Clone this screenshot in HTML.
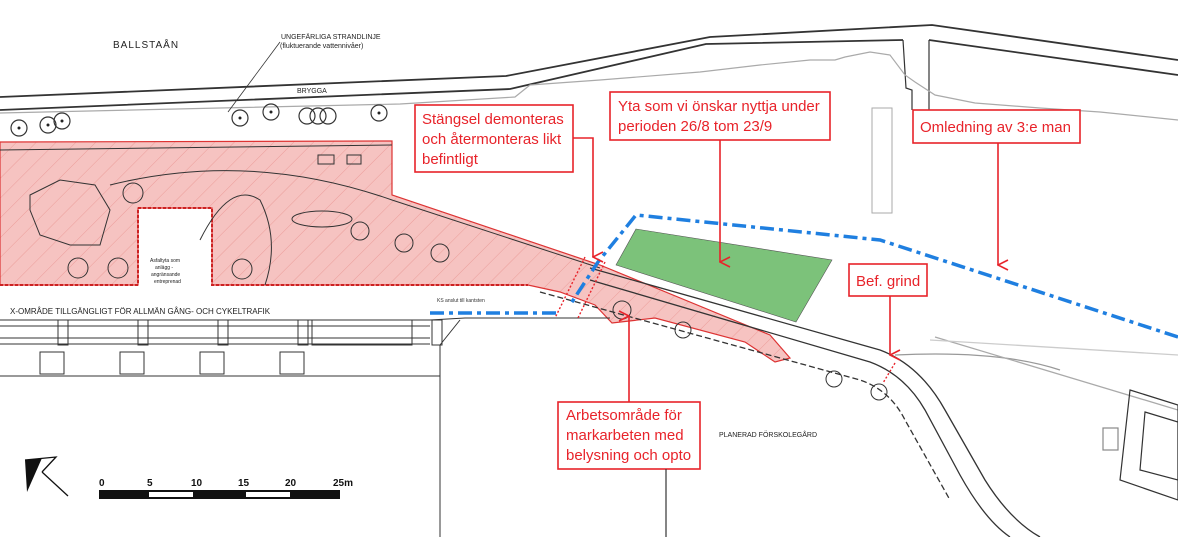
<!DOCTYPE html>
<html><head><meta charset="utf-8"><style>
html,body{margin:0;padding:0;background:#fff;}
svg{display:block;}
.lbl{font-family:"Liberation Sans",sans-serif;fill:#e8232a;font-size:15px;}
.sm{font-family:"Liberation Sans",sans-serif;fill:#222;font-size:7px;}
</style></head><body>
<svg width="1178" height="537" viewBox="0 0 1178 537" xmlns="http://www.w3.org/2000/svg">
<defs>
<pattern id="hatch" width="14" height="14" patternUnits="userSpaceOnUse" patternTransform="rotate(45)">
<rect width="14" height="14" fill="#f6c3c1"/><line x1="0" y1="0" x2="0" y2="14" stroke="#eb9d9a" stroke-width="1"/>
</pattern>
<marker id="ar" viewBox="0 0 12 12" refX="6" refY="11" markerWidth="12" markerHeight="12" orient="auto-start-reverse" markerUnits="userSpaceOnUse">
<path d="M1,1 L6,11 L11,1" fill="none" stroke="#e8232a" stroke-width="1.6"/>
</marker>
</defs>

<polyline points="0,97 506,76 710,37 932,25 1178,60" fill="none" stroke="#333" stroke-width="1.8"/>
<polyline points="0,110 510,89 706,44 903,40" fill="none" stroke="#333" stroke-width="1.8"/>
<polyline points="929,40 1178,75" fill="none" stroke="#333" stroke-width="1.8"/>
<polyline points="903,40 906,88 912,90 912,110" fill="none" stroke="#333" stroke-width="1.2"/>
<line x1="929" y1="40" x2="929" y2="110" stroke="#333" stroke-width="1.2"/>
<polyline points="0,113 220,108 400,104 515,97 530,85 600,80 700,72 760,65 810,60 835,60 845,57 870,52 890,55 905,75 915,82 935,95 975,103 1040,108 1100,112 1178,120" fill="none" stroke="#aaa" stroke-width="1.2"/>
<rect x="872" y="108" width="20" height="105" fill="none" stroke="#aaa" stroke-width="1"/>
<text x="113" y="48" class="sm" style="font-size:10px;letter-spacing:1px">BALLSTAÅN</text>
<text x="281" y="39" class="sm">UNGEFÄRLIGA STRANDLINJE</text>
<text x="280" y="48" class="sm">(fluktuerande vattennivåer)</text>
<line x1="280" y1="42" x2="228" y2="112" stroke="#333" stroke-width="0.8"/>
<text x="297" y="93" class="sm">BRYGGA</text>

<g fill="none" stroke="#333" stroke-width="1.2">
<circle cx="19" cy="128" r="8"/><circle cx="48" cy="125" r="8"/><circle cx="62" cy="121" r="8"/>
<circle cx="240" cy="118" r="8"/><circle cx="271" cy="112" r="8"/><circle cx="307" cy="116" r="8"/><circle cx="318" cy="116" r="8"/><circle cx="328" cy="116" r="8"/><circle cx="379" cy="113" r="8"/>
</g>
<g fill="#222"><circle cx="19" cy="128" r="1.5"/><circle cx="48" cy="125" r="1.5"/><circle cx="62" cy="121" r="1.5"/><circle cx="240" cy="118" r="1.5"/><circle cx="271" cy="112" r="1.5"/><circle cx="379" cy="113" r="1.5"/></g>

<path d="M0,142 L392,141 L392,195 L600,265 L770,335 L790,358 L775,362 L745,342 L655,318 L612,323 L595,305 L560,292 L528,285 L212,285 L212,208 L138,208 L138,285 L0,285 Z" fill="url(#hatch)" stroke="#d33" stroke-width="1.2"/>
<path d="M0,285 L138,285 L138,208 L212,208 L212,285 L528,285" fill="none" stroke="#c22" stroke-width="2" stroke-dasharray="3,2"/>
<g fill="none" stroke="#333" stroke-width="1">
<path d="M0,150 L392,145"/>
<path d="M110,185 Q250,150 392,200 L600,268"/>
<path d="M30,195 L60,180 L95,185 L110,210 L100,245 L70,245 L40,235 L30,210 Z"/>
<path d="M200,240 Q230,180 260,200 Q280,240 265,285"/>
<ellipse cx="322" cy="219" rx="30" ry="8"/>
<circle cx="133" cy="193" r="10"/><circle cx="78" cy="268" r="10"/><circle cx="118" cy="268" r="10"/><circle cx="242" cy="269" r="10"/><circle cx="360" cy="231" r="9"/><circle cx="404" cy="243" r="9"/><circle cx="440" cy="253" r="9"/><circle cx="622" cy="310" r="9"/><circle cx="683" cy="330" r="8"/><circle cx="834" cy="379" r="8"/><circle cx="879" cy="392" r="8"/>
<rect x="318" y="155" width="16" height="9"/><rect x="347" y="155" width="14" height="9"/>
</g>
<text x="150" y="262" class="sm" style="font-size:5px">Asfaltyta som</text>
<text x="155" y="269" class="sm" style="font-size:5px">anlägg -</text>
<text x="151" y="276" class="sm" style="font-size:5px">angränsande</text>
<text x="154" y="283" class="sm" style="font-size:5px">entreprenad</text>

<polygon points="636,229 832,260 796,322 616,265" fill="#7cc27a" stroke="#555" stroke-width="0.6"/>

<g fill="none" stroke="#333" stroke-width="1.3">
<path d="M590,268 L880,350 Q920,365 945,410 L985,480 Q1010,520 1040,537"/>
<path d="M590,280 L870,362 Q905,375 925,410 L960,475 Q985,520 1010,537"/>
<path d="M540,292 L860,380 Q890,390 905,420 L950,500" stroke-dasharray="6,3"/>
<path d="M895,355 Q1000,350 1060,370" stroke="#999"/>
<path d="M935,337 L1178,410" stroke="#aaa"/>
<path d="M930,340 L1178,355" stroke="#ccc"/>
</g>

<text x="10" y="314" class="sm" style="font-size:8px">X-OMRÅDE TILLGÄNGLIGT FÖR ALLMÄN GÅNG- OCH CYKELTRAFIK</text>
<g fill="none" stroke="#333" stroke-width="1">
<line x1="0" y1="320" x2="430" y2="320"/><line x1="0" y1="326" x2="430" y2="326"/><line x1="0" y1="338" x2="430" y2="338"/><line x1="0" y1="344" x2="430" y2="344"/>
<polyline points="430,320 465,318 610,318"/>
<line x1="460" y1="320" x2="440" y2="345"/><line x1="440" y1="345" x2="440" y2="537"/>
<rect x="58" y="320" width="10" height="25"/><rect x="138" y="320" width="10" height="25"/><rect x="218" y="320" width="10" height="25"/><rect x="298" y="320" width="10" height="25"/><rect x="432" y="320" width="10" height="25"/>
<rect x="312" y="320" width="100" height="25"/>
<rect x="40" y="352" width="24" height="22"/><rect x="120" y="352" width="24" height="22"/><rect x="200" y="352" width="24" height="22"/><rect x="280" y="352" width="24" height="22"/>
<line x1="0" y1="376" x2="440" y2="376"/>
</g>

<g fill="none" stroke="#1f7fe0" stroke-width="3.5" stroke-dasharray="14,5,4,5">
<polyline points="1178,337 880,240 636,215 598,262 570,305"/>
<line x1="430" y1="313" x2="556" y2="313"/>
</g>
<text x="437" y="302" class="sm" style="font-size:5px;fill:#333">KS anslut till kantsten</text>

<g stroke="#e8232a" stroke-width="1.4" stroke-dasharray="2,2">
<line x1="585" y1="257" x2="555" y2="318"/><line x1="605" y1="262" x2="578" y2="318"/><line x1="895" y1="363" x2="883" y2="383"/>
</g>

<g fill="none" stroke="#333" stroke-width="1.2">
<polygon points="1130,390 1178,405 1178,500 1120,480"/>
<polygon points="1145,412 1178,422 1178,480 1140,470"/>
<rect x="1103" y="428" width="15" height="22" stroke="#888"/>
</g>
<text x="719" y="437" class="sm" style="font-size:7px">PLANERAD FÖRSKOLEGÅRD</text>

<g fill="#fff" stroke="#e8232a" stroke-width="1.6">
<rect x="415" y="105" width="158" height="67"/>
<rect x="610" y="92" width="220" height="48"/>
<rect x="913" y="110" width="167" height="33"/>
<rect x="849" y="264" width="78" height="32"/>
<rect x="558" y="402" width="142" height="67"/>
</g>
<g fill="none" stroke="#e8232a" stroke-width="1.6">
<polyline points="573,138 593,138 593,257" marker-end="url(#ar)"/>
<line x1="720" y1="140" x2="720" y2="262" marker-end="url(#ar)"/>
<line x1="998" y1="143" x2="998" y2="265" marker-end="url(#ar)"/>
<line x1="890" y1="296" x2="890" y2="355" marker-end="url(#ar)"/>
<line x1="629" y1="402" x2="629" y2="316" marker-end="url(#ar)"/>
</g>
<line x1="666" y1="469" x2="666" y2="537" stroke="#333" stroke-width="1.2"/>
<text class="lbl" x="422" y="124">Stängsel demonteras</text>
<text class="lbl" x="422" y="144">och återmonteras likt</text>
<text class="lbl" x="422" y="164">befintligt</text>
<text class="lbl" x="618" y="111">Yta som vi önskar nyttja under</text>
<text class="lbl" x="618" y="131">perioden 26/8 tom 23/9</text>
<text class="lbl" x="920" y="132">Omledning av 3:e man</text>
<text class="lbl" x="856" y="286">Bef. grind</text>
<text class="lbl" x="566" y="420">Arbetsområde för</text>
<text class="lbl" x="566" y="440">markarbeten med</text>
<text class="lbl" x="566" y="460">belysning och opto</text>

<polygon points="25,460 42,458 27,492" fill="#111"/>
<polyline points="25,460 56,457 42,472" fill="none" stroke="#111" stroke-width="1.3"/>
<line x1="42" y1="472" x2="68" y2="496" stroke="#111" stroke-width="1.3"/>

<rect x="99" y="490" width="241" height="9" fill="#111"/>
<rect x="149" y="492" width="44" height="5" fill="#fff"/>
<rect x="246" y="492" width="44" height="5" fill="#fff"/>
<g class="sm" style="font-size:10px;fill:#111;font-weight:bold">
<text x="99" y="486">0</text><text x="147" y="486">5</text><text x="191" y="486">10</text><text x="238" y="486">15</text><text x="285" y="486">20</text><text x="333" y="486">25m</text>
</g>
</svg>
</body></html>
